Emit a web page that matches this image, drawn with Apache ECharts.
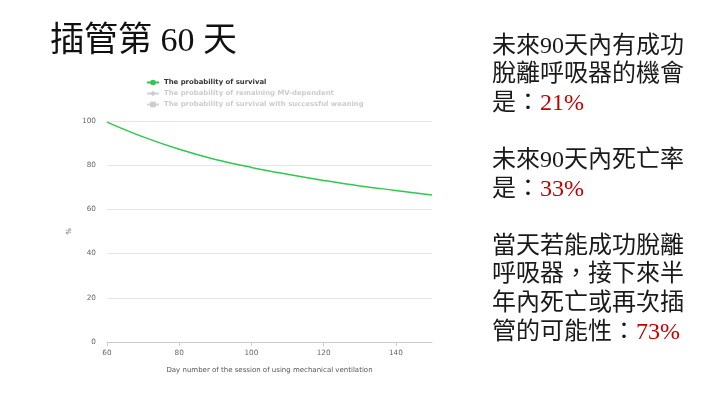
<!DOCTYPE html>
<html lang="zh-Hant">
<head>
    <meta charset="UTF-8">
    <title>插管第 60 天</title>
    <script src="https://cdn.jsdelivr.net/npm/echarts@6/dist/echarts.min.js"></script>
    <style>
        html, body { margin: 0; padding: 0; background: #fff; }
        #main { width: 720px; height: 405px; }
    </style>
</head>
<body>
<div id="main"></div>
<script>
    // 資料
    var days = [60, 70, 80, 90, 100, 110, 120, 130, 140, 150];
    var survival = [99.5, 92.8, 87.2, 82.6, 79.0, 75.9, 73.1, 70.6, 68.6, 66.5];
    var mvDependent = [];      // 圖例中未選取
    var weaningSurvival = [];  // 圖例中未選取
    var seriesNames = [
        'The probability of survival',
        'The probability of remaining MV-dependent',
        'The probability of survival with successful weaning'
    ];
    var weanRate = '21%';
    var deathRate = '33%';
    var relapseRate = '73%';

    var myChart = echarts.init(document.getElementById('main'));
    var serif = "'Liberation Serif', 'DejaVu Serif', 'Noto Sans CJK TC', serif";
    var sans = "'DejaVu Sans', Verdana, sans-serif";

    function toPairs(arr) {
        return arr.map(function (v, i) { return [days[i], v]; });
    }

    var selected = {};
    selected[seriesNames[0]] = true;
    selected[seriesNames[1]] = false;
    selected[seriesNames[2]] = false;

    var option = {
        animation: false,
        title: {
            text: '插管第 60 天',
            left: 45,
            top: 20,
            textStyle: { fontFamily: serif, fontSize: 34, fontWeight: 'normal', color: '#111' }
        },
        legend: {
            orient: 'vertical',
            left: 141,
            top: 74,
            itemWidth: 12,
            itemHeight: 7,
            itemGap: 4,
            selected: selected,
            inactiveColor: '#cccccc',
            textStyle: { fontFamily: sans, fontSize: 6.9, fontWeight: 'bold', color: '#333' },
            data: seriesNames
        },
        grid: { left: 107, right: 288, top: 121, bottom: 63 },
        xAxis: {
            type: 'value',
            min: 60,
            max: 150,
            interval: 20,
            name: 'Day number of the session of using mechanical ventilation',
            nameLocation: 'middle',
            nameGap: 25,
            nameTextStyle: { fontFamily: sans, fontSize: 7, color: '#555' },
            axisLine: { lineStyle: { color: '#cccccc' } },
            axisTick: { show: true, length: 4, lineStyle: { color: '#cccccc' } },
            axisLabel: { fontFamily: sans, fontSize: 7.3, color: '#666', showMaxLabel: false },
            splitLine: { show: false }
        },
        yAxis: {
            type: 'value',
            min: 0,
            max: 100,
            interval: 20,
            name: '%',
            nameLocation: 'middle',
            nameGap: 34,
            nameTextStyle: { fontFamily: sans, fontSize: 7, color: '#666' },
            axisLine: { show: false },
            axisTick: { show: false },
            axisLabel: { fontFamily: sans, fontSize: 7.3, color: '#666', margin: 11 },
            splitLine: { lineStyle: { color: '#e6e6e6' } }
        },
        series: [
            {
                name: seriesNames[0],
                type: 'line',
                data: toPairs(survival),
                smooth: 0.4,
                symbol: 'circle',
                symbolSize: 6,
                showSymbol: false,
                itemStyle: { color: '#2fc84f' },
                lineStyle: { width: 1.5, color: '#2fc84f' }
            },
            {
                name: seriesNames[1],
                type: 'line',
                data: toPairs(mvDependent),
                symbol: 'diamond',
                showSymbol: false,
                itemStyle: { color: '#7cb5ec' }
            },
            {
                name: seriesNames[2],
                type: 'line',
                data: toPairs(weaningSurvival),
                symbol: 'rect',
                showSymbol: false,
                itemStyle: { color: '#434348' }
            }
        ],
        graphic: [
            {
                type: 'text',
                left: 492,
                top: 32,
                style: {
                    text: [
                        '未來90天內有成功',
                        '脫離呼吸器的機會',
                        '是：{r|' + weanRate + '}',
                        '',
                        '未來90天內死亡率',
                        '是：{r|' + deathRate + '}',
                        '',
                        '當天若能成功脫離',
                        '呼吸器，接下來半',
                        '年內死亡或再次插',
                        '管的可能性：{r|' + relapseRate + '}'
                    ].join('\n'),
                    font: '24px ' + serif,
                    fill: '#1a1a1a',
                    lineHeight: 28.6,
                    rich: {
                        r: { fill: '#c00000', fontSize: 24, fontFamily: serif, lineHeight: 28.6 }
                    }
                }
            }
        ]
    };

    myChart.setOption(option);
</script>
</body>
</html>
